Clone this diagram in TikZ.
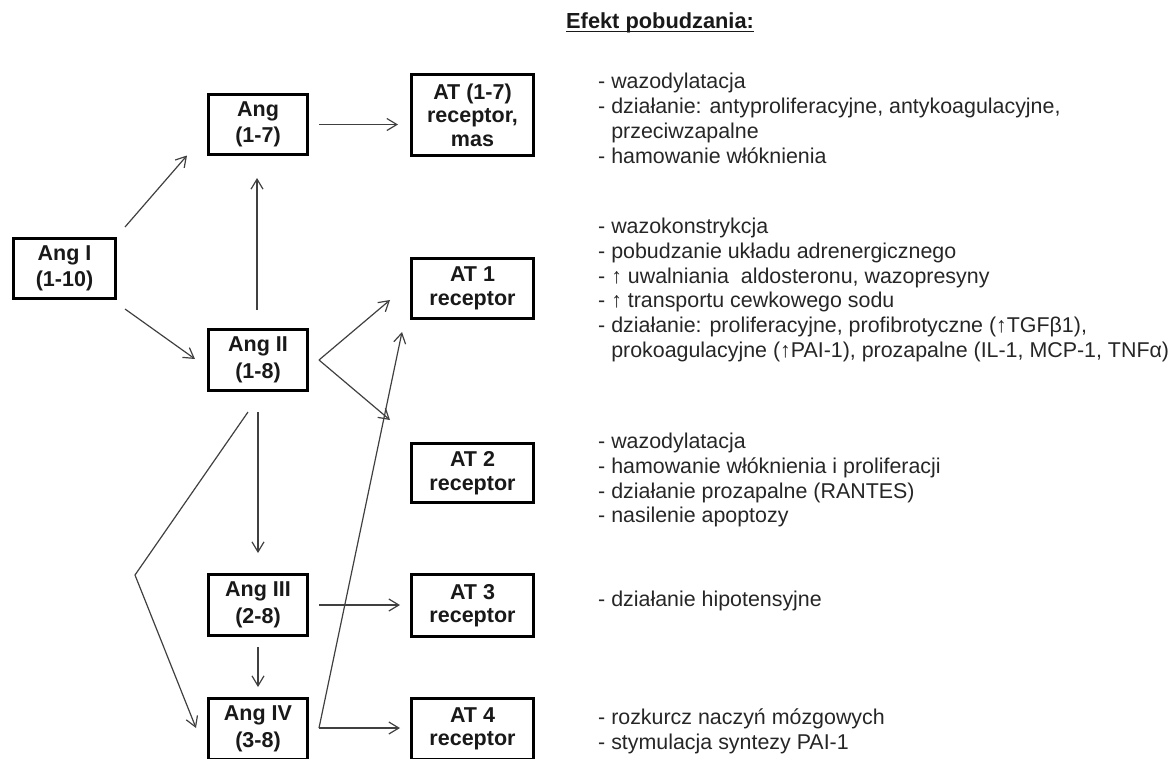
\documentclass[tikz,border=0pt]{standalone}
\usepackage{fontspec}
\setmainfont{Liberation Sans}
\usetikzlibrary{arrows.meta,calc}
\begin{document}
\begin{tikzpicture}[x=1pt,y=-1pt,
  box/.style={draw=black, line width=3pt, fill=white, inner sep=0pt, align=center,
    text=black!90, font=\bfseries\fontsize{21.5}{26.5}\selectfont},
  angbox/.style={box, minimum width=99pt, minimum height=60pt},
  atbox/.style={box, minimum width=122pt, minimum height=60pt,
    font=\bfseries\fontsize{21.5}{23.5}\selectfont},
  arr/.style={draw=black!75, line width=1.2pt, -{Straight Barb[length=10pt,width=12pt]}},
  eff/.style={anchor=base west, inner sep=0pt, text=black!85, font=\fontsize{21.4}{25}\selectfont},
]
\useasboundingbox (0,0) rectangle (1172,758);
\clip (0,0) rectangle (1172,758);

% title
\node[anchor=base west, inner sep=0pt, text=black!90, font=\bfseries\fontsize{21.8}{26}\selectfont] (title) at (566,28) {Efekt pobudzania:};
\draw[line width=1.5pt, black!90] ([yshift=-3.5pt]title.base west) -- ([yshift=-3.5pt]title.base east);

% Ang boxes
\node[angbox, minimum width=102pt] (angI) at (64.5,268.5) {Ang I\\(1-10)};
\node[angbox] (ang17) at (258,124.5) {Ang\\(1-7)};
\node[angbox, minimum height=61pt] (angII) at (258,360) {Ang II\\(1-8)};
\node[angbox, minimum height=61pt] (angIII) at (258,605) {Ang III\\(2-8)};
\node[angbox, minimum height=61pt] (angIV) at (258,729) {Ang IV\\(3-8)};

% receptor boxes
\node[atbox, minimum height=81pt] (at17) at (472.5,115) {AT (1-7)\\receptor,\\mas};
\node[atbox] (at1) at (472.5,288.5) {AT 1\\receptor};
\node[atbox, minimum height=59pt] (at2) at (472.5,473) {AT 2\\receptor};
\node[atbox, minimum height=62pt] (at3) at (472.5,605.5) {AT 3\\receptor};
\node[atbox, minimum height=61pt] (at4) at (472.5,729) {AT 4\\receptor};

% connectors
\draw[arr] ([shift={(8,-10)}]angI.north east) -- ([shift={(-20,31)}]ang17.west);
\draw[arr] ([shift={(8,9)}]angI.south east) -- ([shift={(-12,-1)}]angII.west);
\draw[arr] ([shift={(-1,-18)}]angII.north) -- ([shift={(-1,22)}]ang17.south);
\draw[arr, shorten <=10pt, shorten >=12pt] (ang17.east) -- (ang17.east -| at17.west);
\coordinate (v2) at ([shift={(10,0)}]angII.east);
\draw[arr] (v2) -- ([shift={(-20,11.5)}]at1.west);
\draw[arr] (v2) -- ([shift={(-20,-22)}]at2.north west);
\draw[arr, shorten <=20pt, shorten >=20pt] (angII.south) -- (angIII.north);
\coordinate (bend) at (135,575);
\draw[arr] ([shift={(-10,20)}]angII.south) -- (bend) -- ([shift={(-11,-1)}]angIV.west);
\draw[arr, shorten <=10pt, shorten >=10pt] (angIII.east) -- (angIII.east -| at3.west);
\draw[arr, shorten <=10pt, shorten >=10pt] (angIII.south) -- (angIV.north);
\coordinate (v4) at ([shift={(10,-1)}]angIV.east);
\draw[arr, shorten >=10pt] (v4) -- (v4 -| at4.west);
\draw[arr] (v4) -- ([shift={(-8,12)}]at1.south west);

% effects
\node[eff] (e1a) at (598,88)  {- wazodylatacja};
\node[eff] (e1b) at (598,113) {- działanie: antyproliferacyjne, antykoagulacyjne,};
\node[eff] (e1c) at (598,138) {\phantom{- }przeciwzapalne};
\node[eff] (e1d) at (598,163) {- hamowanie włóknienia};

\node[eff] (e2a) at (598,233) {- wazokonstrykcja};
\node[eff] (e2b) at (598,258) {- pobudzanie układu adrenergicznego};
\node[eff] (e2c) at (598,283) {- ↑ uwalniania\ \ aldosteronu, wazopresyny};
\node[eff] (e2d) at (598,307) {- ↑ transportu cewkowego sodu};
\node[eff] (e2e) at (598,332) {- działanie: proliferacyjne, profibrotyczne (↑TGFβ1),};
\node[eff] (e2f) at (598,357) {\phantom{- }prokoagulacyjne (↑PAI-1), prozapalne (IL-1, MCP-1, TNFα)};

\node[eff] (e3a) at (598,448) {- wazodylatacja};
\node[eff] (e3b) at (598,473) {- hamowanie włóknienia i proliferacji};
\node[eff] (e3c) at (598,498) {- działanie prozapalne (RANTES)};
\node[eff] (e3d) at (598,522) {- nasilenie apoptozy};

\node[eff] (e4a) at (598,606) {- działanie hipotensyjne};

\node[eff] (e5a) at (598,724) {- rozkurcz naczyń mózgowych};
\node[eff] (e5b) at (598,749) {- stymulacja syntezy PAI-1};
\end{tikzpicture}
\end{document}
